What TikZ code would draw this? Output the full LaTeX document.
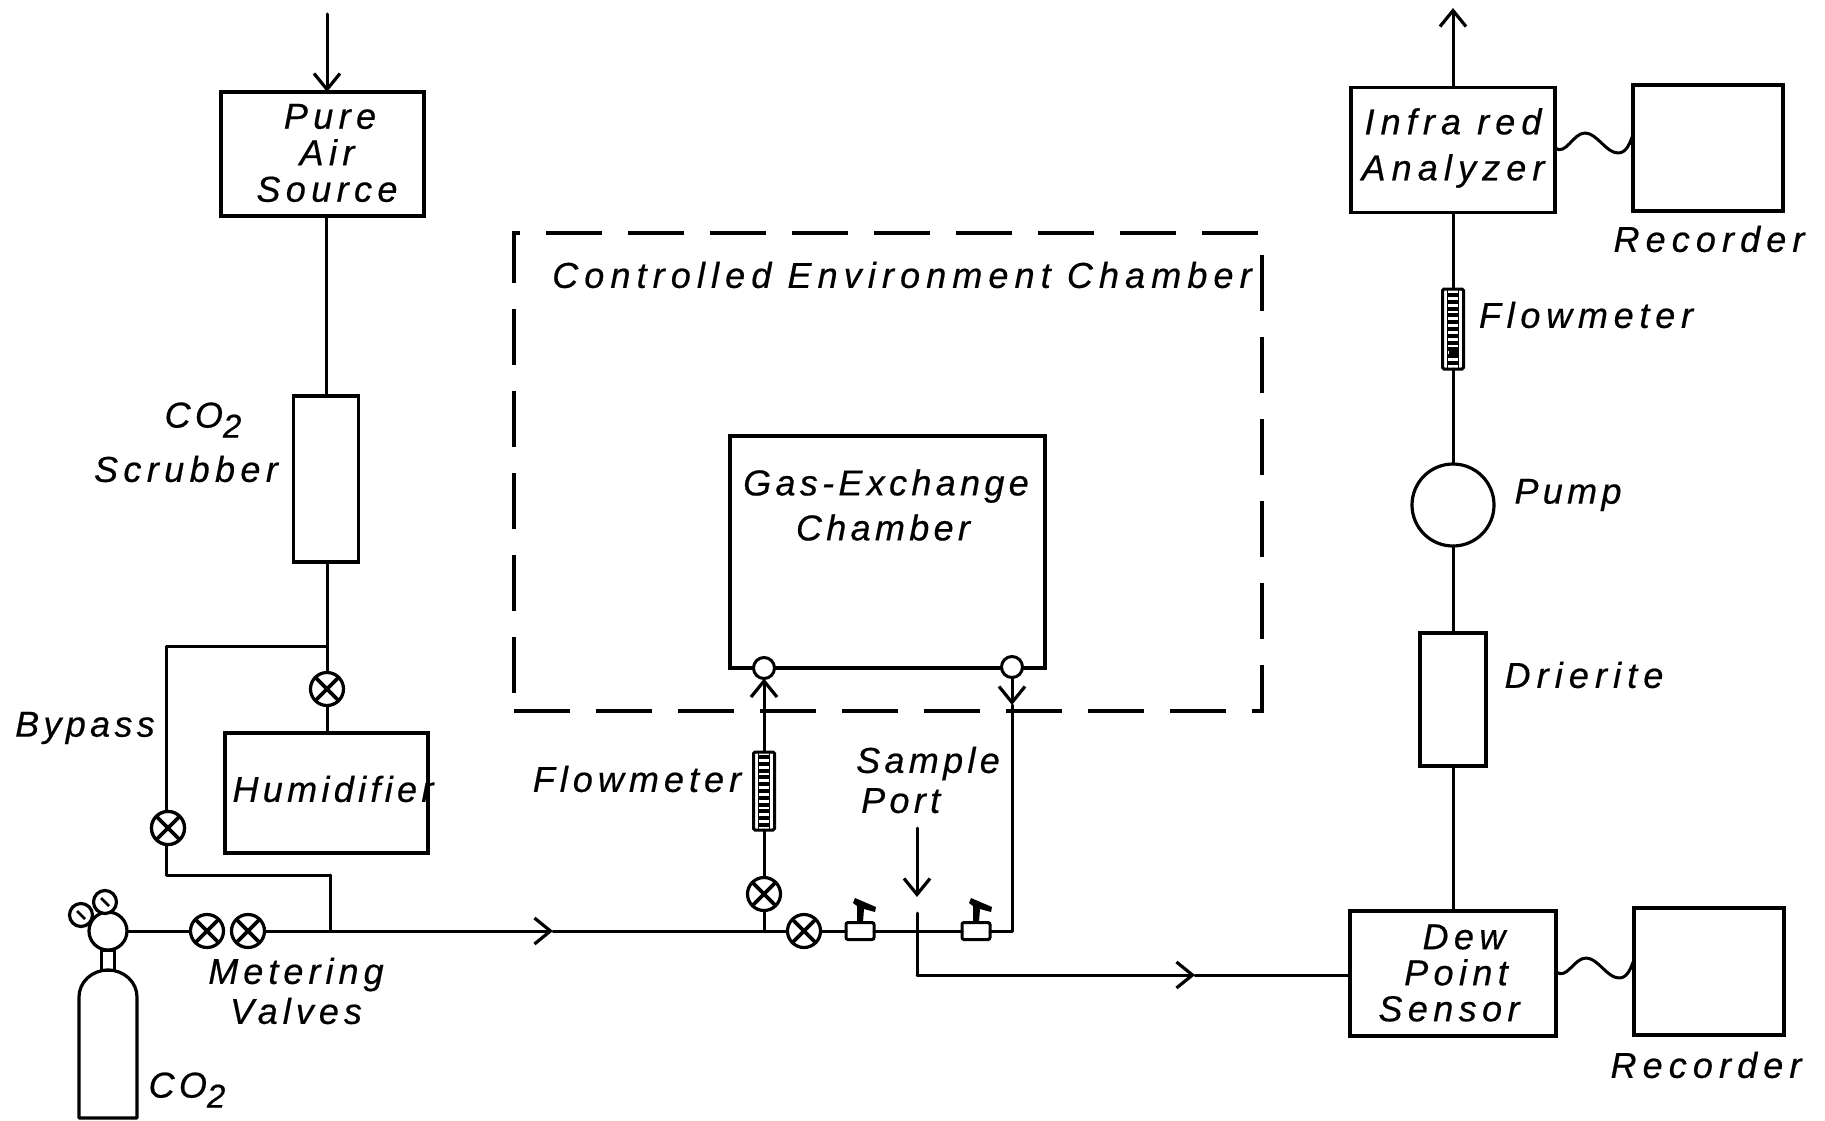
\documentclass[tikz,border=0pt]{standalone}
\usepackage{fontspec}
\setmainfont[LetterSpace=12,FakeBold=0.5]{Liberation Sans}
\usetikzlibrary{arrows.meta}
\newcommand{\subtwo}{\raisebox{-10pt}{\fontsize{33}{33}\selectfont 2}}
\tikzset{
  x=1pt,y=-1pt,
  pipe/.style={line width=3pt,line cap=round,line join=round},
  flowtip/.style={pipe,-{Straight Barb[length=16pt,width=26pt,line width=3.2pt]}},
  boxn/.style={draw,line width=3.2pt,fill=white,inner sep=0pt,minimum width=#1,outer sep=0pt},
  tall/.style={minimum height=#1},
  lab/.style 2 args={font=\fontsize{36}{#2}\selectfont\itshape\addfontfeature{LetterSpace=#1},align=center,inner sep=0pt},
  valve/.style={circle,draw,line width=3.2pt,fill=white,minimum size=33pt,inner sep=0pt,outer sep=0pt,
    path picture={\draw[line width=3.6pt] (path picture bounding box.north west)--(path picture bounding box.south east)
      (path picture bounding box.north east)--(path picture bounding box.south west);}},
  port/.style={circle,draw,line width=3pt,fill=white,minimum size=21pt,inner sep=0pt,outer sep=0pt},
  gauge/.style={circle,draw,line width=3.2pt,fill=white,minimum size=23pt,inner sep=0pt,outer sep=0pt,
    path picture={\draw[line width=2.6pt] (-4,-4)--(4,4);}},
  meter/.style={draw,line width=3pt,rounded corners=1.5pt,fill=white,minimum width=21pt,minimum height=#1,inner sep=0pt,outer sep=0pt,
    path picture={\draw[line width=1.8pt] (-5.5,-50)--(-5.5,50) (5.5,-50)--(5.5,50);
      \foreach \k in {-6,...,6}{\draw[line width=4pt] (-5.5,\k*6.8)--(5.5,\k*6.8);}}},
  cock/.style={draw,line width=3pt,rounded corners=2pt,fill=white,minimum width=28pt,minimum height=17pt,inner sep=0pt,outer sep=0pt},
  handle/.pic={\fill (-3,-9)--(-3,-25)--(-7,-28)--(-5,-33)--(16,-24)--(15,-19)--(4,-22)--(3,-9)--cycle;}
}
\begin{document}
\begin{tikzpicture}
\useasboundingbox (0,0) rectangle (1825,1121);
% free ends and bends
\coordinate (intop) at (327,14);
\coordinate (outtop) at (1453,8);
\coordinate (bypassT) at (327,646);
\coordinate (bypassTL) at (166,646);
\coordinate (bypassBL) at (166,875);
\coordinate (bypassB) at (330,875);
\coordinate (mainTee) at (330,931);
\coordinate (mainArrow) at (553,931);
\coordinate (fmTee) at (764,931);
\coordinate (sampleJ) at (917,931);
\coordinate (sampleTop) at (917,913);
\coordinate (sampleFree) at (917,828);
\coordinate (sampleTip) at (917,897);
\coordinate (sampleB) at (917,975);
\coordinate (retArrow) at (1195,975);
\coordinate (retCorner) at (1012,931);
\coordinate (retTip) at (1012,705);
% chamber
\node[draw,line width=3.2pt,dash pattern=on 56pt off 26pt,inner sep=0pt,minimum width=748pt,minimum height=478pt] (env) at (888,472) {};
% boxes
\node[boxn=203pt,tall=124pt] (pure) at (322.5,154) {};
\node[boxn=65pt,tall=166pt] (scrub) at (326,479) {};
\node[boxn=203pt,tall=120pt] (humid) at (326.5,793) {};
\node[boxn=315pt,tall=232pt] (gas) at (887.5,552) {};
\node[boxn=204pt,tall=125pt] (ir) at (1453,150) {};
\node[boxn=150pt,tall=126pt] (rec1) at (1708,148) {};
\node[boxn=66pt,tall=133pt] (dri) at (1453,699.5) {};
\node[boxn=206pt,tall=125pt] (dew) at (1453,973.5) {};
\node[boxn=150pt,tall=127pt] (rec2) at (1709,971.5) {};
\node[circle,draw,line width=3.2pt,fill=white,minimum size=82pt,inner sep=0pt,outer sep=0pt] (pump) at (1453,505) {};
% parts on the lines
\node[valve] (v1) at (327,689) {};
\node[valve] (v2) at (168,828) {};
\node[valve] (v3) at (207,931) {};
\node[valve] (v4) at (248,931) {};
\node[valve] (v5) at (764,894) {};
\node[valve] (v6) at (804,931) {};
\node[cock] (c1) at (860,931) {};
\node[cock] (c2) at (976,931) {};
\pic at (c1.center) {handle};
\pic at (c2.center) {handle};
\node[port] (p1) at (764,668) {};
\node[port] (p2) at (1012,667) {};
\node[meter=78pt] (fm1) at (764,791) {};
\node[meter=80pt] (fm2) at (1453,329) {};
\fill (1449,350) rectangle (1459,358);
% cylinder
\node[circle,draw,line width=3.2pt,fill=white,minimum size=38pt,inner sep=0pt,outer sep=0pt] (reg) at (108,931) {};
\node[gauge] (g1) at (81,915) {};
\node[gauge] (g2) at (105,902) {};
\node[draw,line width=3pt,minimum width=13pt,minimum height=20pt,inner sep=0pt,outer sep=0pt] (neck) at (107.5,960) {};
\draw[line width=3.2pt,line join=round] (79,1118) -- (79,997) .. controls (79,982) and (92,970) .. (108,970) .. controls (124,970) and (137,982) .. (137,997) -- (137,1118) -- cycle;
% pipes
\draw[flowtip] (intop) -- (intop |- pure.north);
\draw[pipe] (pure.south -| scrub.north) -- (scrub.north);
\draw[pipe] (scrub.south -| bypassT) -- (bypassT) -- (v1.north);
\draw[pipe] (v1.south) -- (v1 |- humid.north);
\draw[pipe] (bypassT) -- (bypassTL) -- (bypassBL) -- (bypassB);
\draw[pipe] (bypassB) -- (mainTee);
\draw[pipe] (reg.east) -- (v3.west);
\draw[pipe] (v4.east) -- (mainTee);
\draw[flowtip] (mainTee) -- (mainArrow);
\draw[pipe] (mainArrow) -- (fmTee) -- (v6.west);
\draw[pipe] (fmTee) -- (v5.south);
\draw[pipe] (v5.north) -- (fm1.south);
\draw[flowtip] (fm1.north) -- (p1.south);
\draw[pipe] (v6.east) -- (c1.west);
\draw[pipe] (c1.east) -- (sampleJ) -- (c2.west);
\draw[pipe] (c2.east) -- (retCorner) -- (retTip);
\draw[flowtip] (p2.south) -- (retTip);
\draw[pipe] (sampleTop) -- (sampleB);
\draw[flowtip] (sampleFree) -- (sampleTip);
\draw[flowtip] (sampleB) -- (retArrow);
\draw[pipe] (retArrow) -- (retArrow -| dew.west);
\draw[pipe] (dew.north -| dri.south) -- (dri.south);
\draw[pipe] (dri.north) -- (pump.south);
\draw[pipe] (pump.north) -- (fm2.south);
\draw[pipe] (fm2.north) -- (ir.south -| fm2.north);
\draw[flowtip] (ir.north -| outtop) -- (outtop);
\draw[pipe] (ir.east |- 0,148) .. controls (1566,156) and (1573,133) .. (1585,133) .. controls (1597,133) and (1606,153) .. (1618,153) .. controls (1627,153) and (1630,142) .. (rec1.west |- 0,135);
\draw[pipe] (dew.east |- 0,972) .. controls (1567,980) and (1574,958) .. (1586,958) .. controls (1598,958) and (1607,978) .. (1619,978) .. controls (1628,978) and (1631,967) .. (rec2.west |- 0,960);
\node[valve] at (v2) {};
% labels
\node[lab={15}{36.5}] (tPure) at (327,153) {\hspace*{6pt}Pure\\Air\\Source};
\node[lab={12}{37}] (tCO1) at (203,420) {CO\subtwo};
\node[lab={15}{37}] (tScr) at (186,469) {Scrubber};
\node[lab={12}{37}] (tBy) at (85,728) {Bypass};
\node[lab={12}{37}] (tHum) at (333,789) {Humidifier};
\node[lab={14}{40}] (tMet) at (296,991) {Metering\\Valves};
\node[lab={12}{37}] (tCO2) at (187,1090) {CO\subtwo};
\node[lab={17}{37}] (tEnv) at (902,275) {Controlled Environment Chamber};
\node[lab={12}{45}] (tGas) at (886,505) {Gas-Exchange\\\hspace*{-6pt}Chamber};
\node[lab={14}{37}] (tFm1) at (637,779) {Flowmeter};
\node[lab={12}{40},align=left] (tSam) at (928,780) {Sample\\\hspace*{5pt}Port};
\node[lab={17}{46}] (tIR) at (1453,148) {Infra red\\Analyzer};
\node[lab={17}{37}] (tRec1) at (1709,239) {Recorder};
\node[lab={16}{37}] (tFm2) at (1586,315) {Flowmeter};
\node[lab={12}{37}] (tPump) at (1568,495) {Pump};
\node[lab={17}{37}] (tDri) at (1584,675) {Drierite};
\node[lab={15}{36}] (tDew) at (1449,973) {\hspace*{30pt}Dew\\\hspace*{14pt}Point\\Sensor};
\node[lab={17}{37}] (tRec2) at (1706,1065) {Recorder};
\end{tikzpicture}
\end{document}
